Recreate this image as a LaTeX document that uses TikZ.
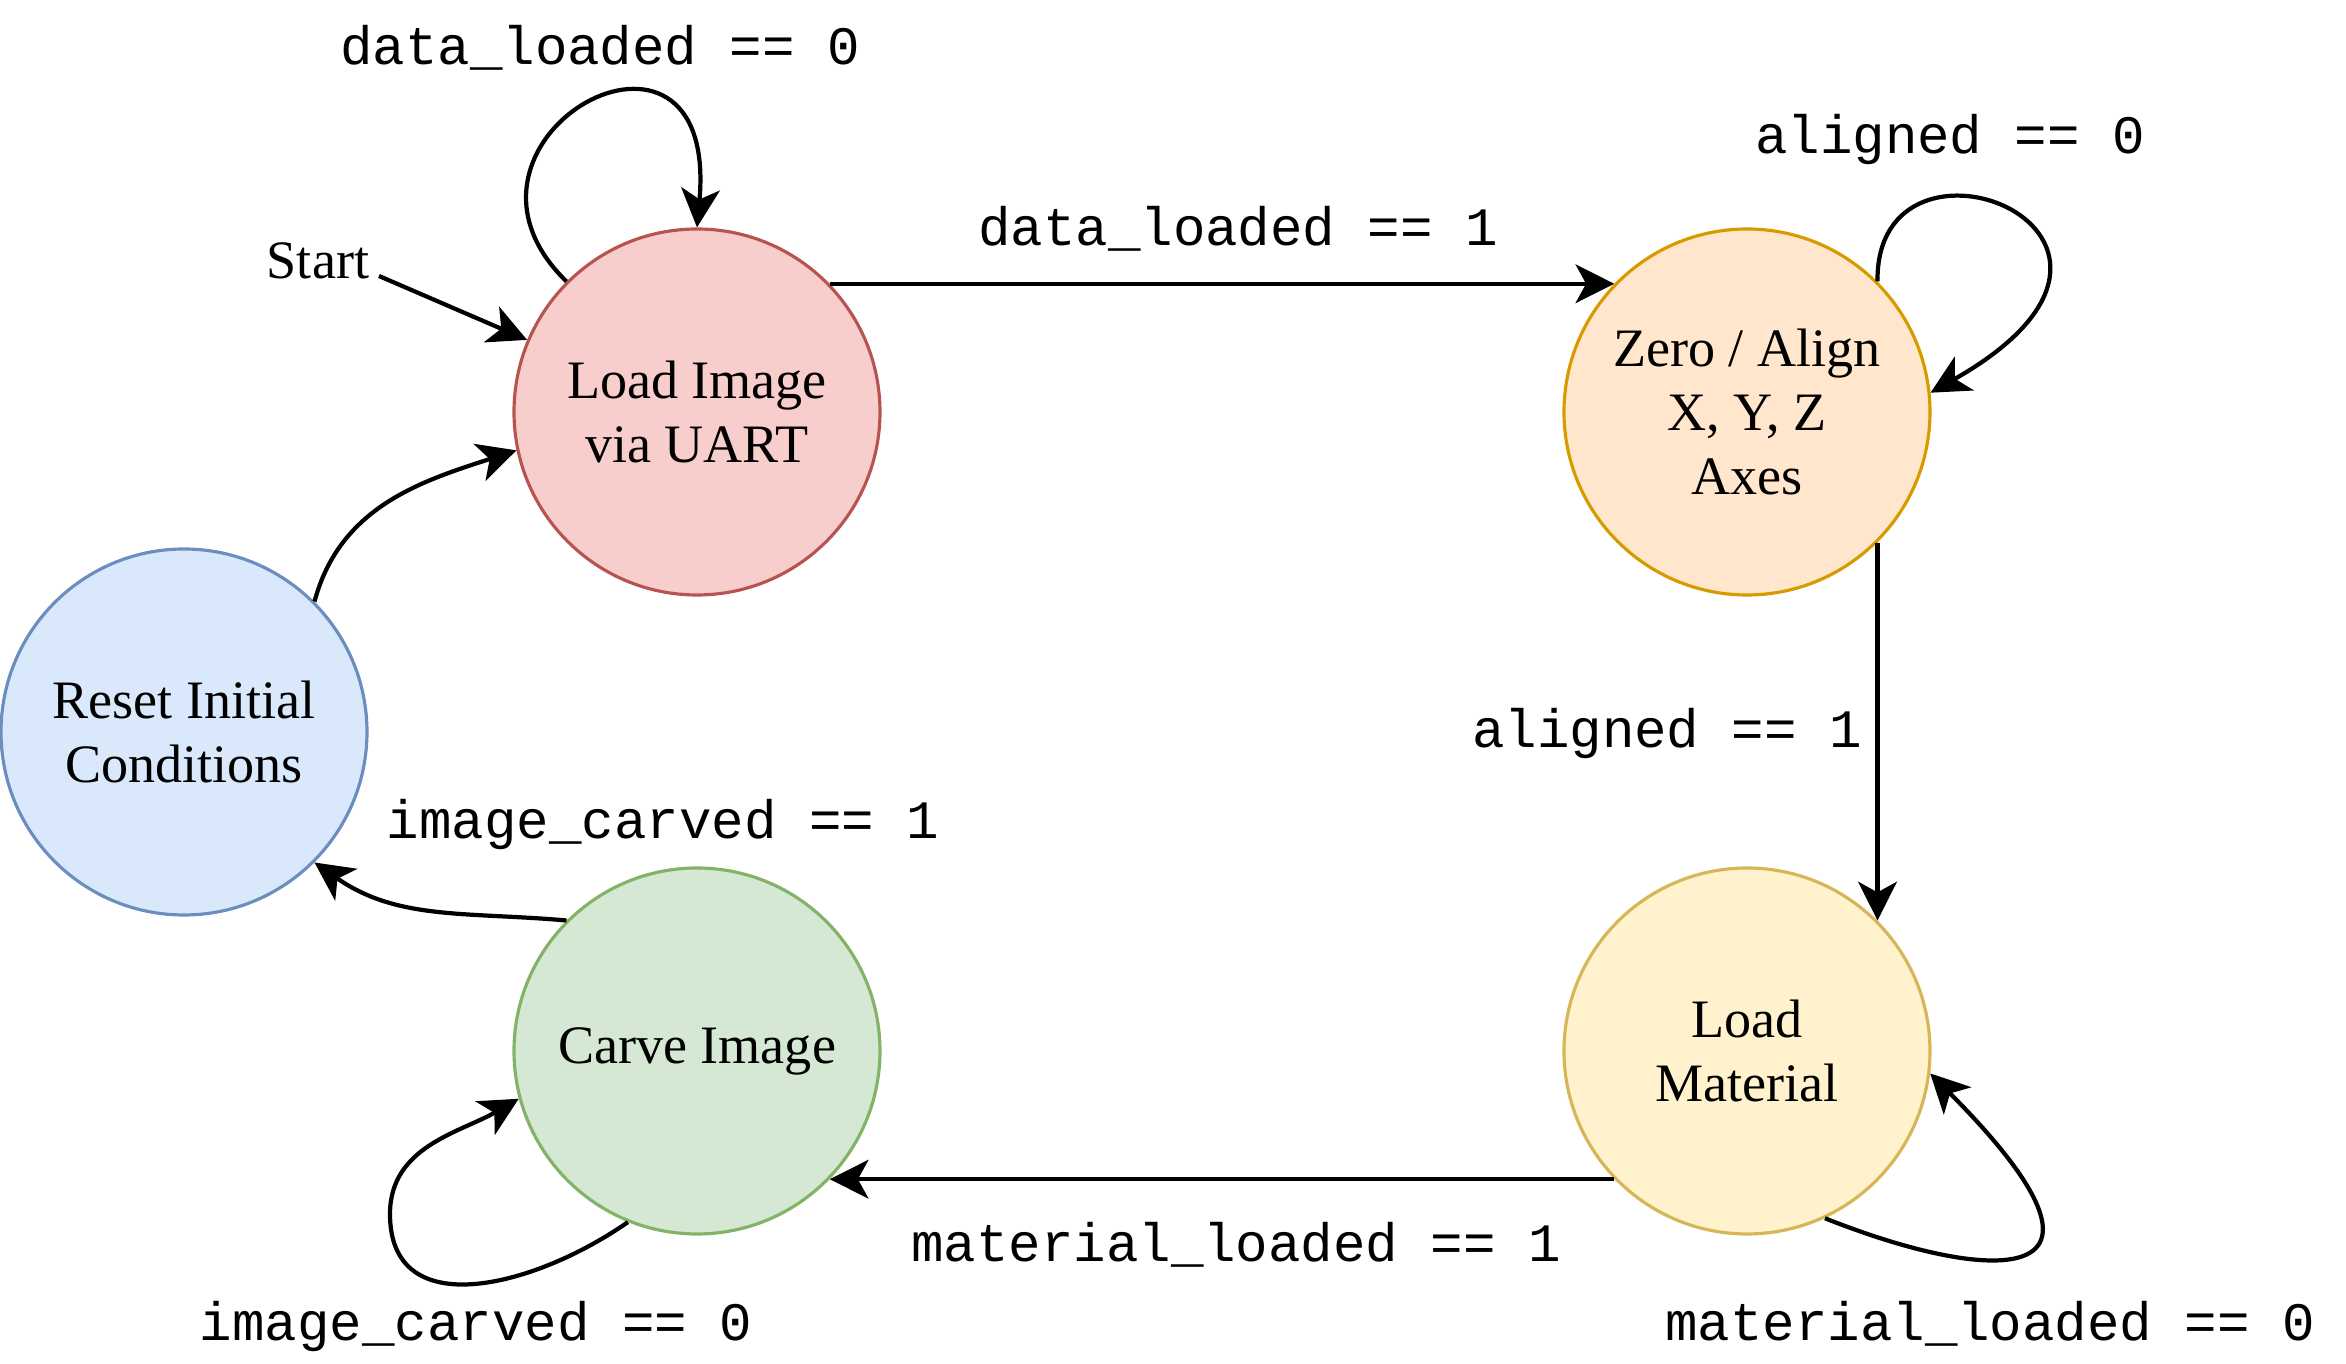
\documentclass[tikz,border=0pt]{standalone}
\usepackage{fontspec}
\setmainfont{Liberation Serif}
\setmonofont{Liberation Mono}
\usetikzlibrary{arrows.meta}
\definecolor{redfill}{HTML}{F8CECC}\definecolor{redline}{HTML}{B85450}
\definecolor{orgfill}{HTML}{FFE6CC}\definecolor{orgline}{HTML}{D79B00}
\definecolor{bluefill}{HTML}{DAE8FC}\definecolor{blueline}{HTML}{6C8EBF}
\definecolor{grnfill}{HTML}{D5E8D4}\definecolor{grnline}{HTML}{82B366}
\definecolor{ylwfill}{HTML}{FFF2CC}\definecolor{ylwline}{HTML}{D6B656}
\tikzset{
  state/.style={circle, draw, line width=0.9pt, minimum size=3.66cm, inner sep=0pt,
    align=center, font=\fontsize{15.4pt}{18.2pt}\selectfont},
  cond/.style={anchor=base, inner sep=0pt, font=\fontsize{15.4pt}{18.2pt}\selectfont\ttfamily},
  trans/.style={line width=1.2pt, -{Stealth[length=11pt,width=11pt,inset=3pt]}},
}
\begin{document}
\begin{tikzpicture}[x=0.1mm,y=0.1mm]
\useasboundingbox (0,0) rectangle (2346,1364);
% states
\node[state, fill=redfill, draw=redline] (load) at (697,952) {Load Image\\via UART};
\node[state, fill=orgfill, draw=orgline] (zero) at (1747,952) {Zero / Align\\X, Y, Z\\Axes};
\node[state, fill=bluefill, draw=blueline] (reset) at (184,632) {Reset Initial\\Conditions};
\node[state, fill=grnfill, draw=grnline] (carve) at (697,313) {Carve Image};
\node[state, fill=ylwfill, draw=ylwline] (mat) at (1747,313) {Load\\Material};
% labels
\node[cond] (l1) at (600,1299) {data\_loaded == 0};
\node[anchor=base, inner sep=0pt, font=\fontsize{15.4pt}{18.2pt}\selectfont] (startlbl) at (318,1085) {Start};
\node[cond] (l2) at (1238,1118) {data\_loaded == 1};
\node[cond] (l3) at (1950,1210) {aligned == 0};
\node[cond] (l4) at (1667,616) {aligned == 1};
\node[cond] (l5) at (1236,102) {material\_loaded == 1};
\node[cond] (l6) at (1990,23) {material\_loaded == 0};
\node[cond] (l7) at (663,525) {image\_carved == 1};
\node[cond] (l8) at (476,23) {image\_carved == 0};
% start arrow
\coordinate (s0) at (379,1088);
\draw[trans] (s0) -- (load.157);
% transitions
\draw[trans] (load.135) .. controls (420,1225) and (720,1390) .. (load.90);
\draw[trans] (load.44) -- (zero.136);
\draw[trans] (zero.45) .. controls (1875,1260) and (2210,1130) .. (zero.6);
\draw[trans] (zero.-45) -- (mat.45);
\draw[trans] (mat.-65) .. controls (1990,80) and (2150,70) .. (mat.-7.5);
\draw[trans] (mat.-136) -- (carve.-44);
\draw[trans] (carve.-112) to[out=-145,in=-90,looseness=1.2] (390,150) to[out=90,in=210] (carve.195);
\draw[trans] (carve.135) to[out=175,in=-35] (reset.-45);
\draw[trans] (reset.45) to[out=75,in=198] (load.192);
\end{tikzpicture}
\end{document}
